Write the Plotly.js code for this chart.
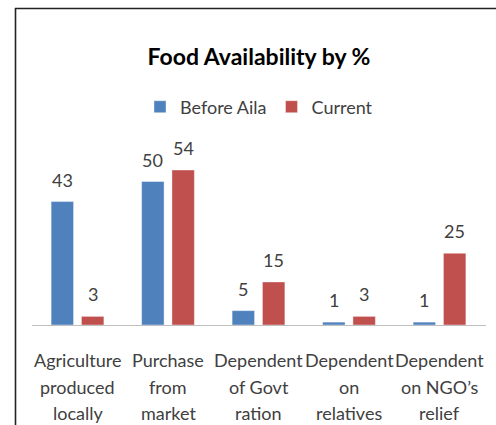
<!DOCTYPE html>
<html>
<head>
<meta charset="utf-8">
<script src="https://cdn.plot.ly/plotly-3.0.1.min.js"></script>
<style>html,body{margin:0;padding:0;background:#fff;}#chart{width:496px;height:425px;}</style>
</head>
<body>
<div id="chart"></div>
<script>
const categories = ["Agriculture<br>produced<br>locally", "Purchase<br>from<br>market", "Dependent<br>of Govt<br>ration", "Dependent<br>on<br>relatives", "Dependent<br>on NGO’s<br>relief"];
const beforeAila = [43, 50, 5, 1, 1];
const current = [3, 54, 15, 3, 25];
const seriesNames = ["Before Aila", "Current"];
const chartTitle = "Food Availability by %";

const FONT = "Lato, 'Open Sans', sans-serif";
const TXT = "#404040";

const L = 32, R = 10, T = 150, B = 100, W = 496, H = 425;
const pw = W - L - R, ph = H - T - B;
const px = v => (v - L) / pw;
const py = v => (H - B - v) / ph;
const BARGAP = 0.33, GROUPGAP = 0.26;
const slot = pw / categories.length * (1 - BARGAP) / 2;

const traces = [
  {type: "bar", name: seriesNames[0], x: categories, y: beforeAila,
   marker: {color: "#4F81BD", line: {color: "rgba(255,255,255,0.5)", width: 0.8}},
   hoverinfo: "none"},
  {type: "bar", name: seriesNames[1], x: categories, y: current,
   marker: {color: "#C0504D", line: {color: "rgba(255,255,255,0.5)", width: 0.8}},
   hoverinfo: "none"}
];

const annotations = [];
// data labels
[beforeAila, current].forEach(function (vals, s) {
  vals.forEach(function (v, i) {
    annotations.push({xref: "x", yref: "y", x: categories[i], y: v,
      xshift: (s === 0 ? -1 : 1) * slot / 2, yshift: 9,
      text: String(v), showarrow: false, xanchor: "center", yanchor: "bottom",
      font: {family: FONT, size: 18, color: TXT}});
  });
});
// category labels, one annotation per line
const lineShifts = [-35, -62, -88];
categories.forEach(function (c) {
  c.split("<br>").forEach(function (ln, i) {
    annotations.push({xref: "x", yref: "paper", x: c, y: 0, yshift: lineShifts[i],
      text: ln, showarrow: false, xanchor: "center", yanchor: "middle",
      font: {family: FONT, size: 18, color: TXT}});
  });
});

const layout = {
  width: W, height: H,
  margin: {l: L, r: R, t: T, b: B, pad: 0},
  paper_bgcolor: "#fff", plot_bgcolor: "#fff",
  font: {family: FONT, color: TXT},
  title: {text: chartTitle, font: {family: FONT, size: 23, color: "#000", weight: "bold"},
          x: 0.5, xref: "paper", xanchor: "center", y: 1 - 57 / H, yref: "container", yanchor: "middle"},
  showlegend: true,
  legend: {orientation: "h", x: 0.5, xanchor: "center", y: py(107), yanchor: "middle",
           font: {family: FONT, size: 18, color: TXT}, itemwidth: 30, traceorder: "normal"},
  barmode: "group", bargap: BARGAP, bargroupgap: GROUPGAP,
  xaxis: {showline: true, linecolor: "#BFBFBF", linewidth: 1, ticks: "", showticklabels: false,
          showgrid: false, zeroline: false, fixedrange: true},
  yaxis: {range: [0, ph / 2.87], visible: false, showgrid: false, zeroline: false, fixedrange: true},
  annotations: annotations,
  shapes: [
    {type: "line", xref: "paper", yref: "paper", x0: px(15.5), x1: px(15.5), y0: py(8), y1: py(H + 2),
     line: {color: "#222", width: 1.6}},
    {type: "line", xref: "paper", yref: "paper", x0: px(15), x1: px(W + 2), y0: py(8.5), y1: py(8.5),
     line: {color: "#222", width: 1.6}}
  ]
};

Plotly.newPlot("chart", traces, layout, {displayModeBar: false, staticPlot: true});
</script>
</body>
</html>
